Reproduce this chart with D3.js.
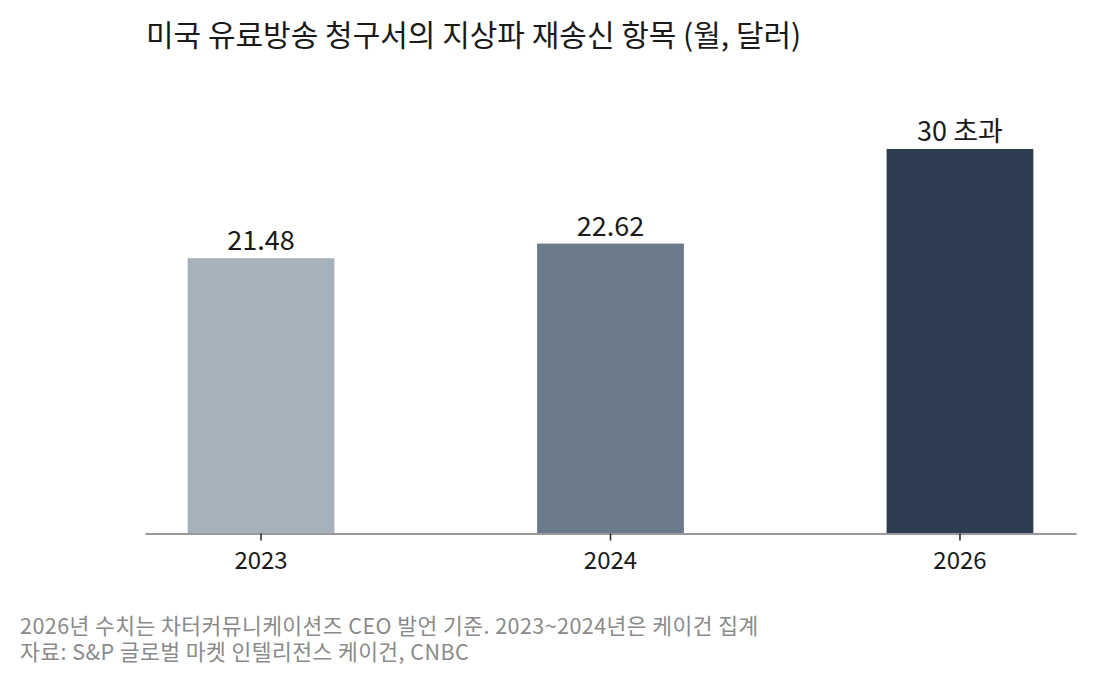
<!DOCTYPE html>
<html><head><meta charset="utf-8">
<script src="https://cdn.jsdelivr.net/npm/d3@7"></script>
<style>
body{margin:0;background:#fff;}
text{font-family:"Noto Sans CJK KR","Noto Sans",sans-serif;}
</style></head>
<body><svg id="c" width="1096" height="685"></svg>
<script>
const categories = ["2023","2024","2026"];
const values = [21.48, 22.62, 30];
const valueLabels = ["21.48","22.62","30 초과"];
const barColors = ["#a7b1bb","#6b7b8b","#2e3d4f"];
const title = "미국 유료방송 청구서의 지상파 재송신 항목 (월, 달러)";
const notes = ["2026년 수치는 차터커뮤니케이션즈 CEO 발언 기준. 2023~2024년은 케이건 집계",
               "자료: S&P 글로벌 마켓 인텔리전스 케이건, CNBC"];

const svg = d3.select("#c");
const x = d3.scaleBand().domain(categories).range([145,1076]).paddingInner(0.58).paddingOuter(0.122);
const y = d3.scaleLinear().domain([0,30]).range([533.5,149]);

svg.append("text").attr("x",146).attr("y",46).attr("font-size",30).attr("fill","#1a1a1a").text(title);

svg.selectAll("rect.bar").data(values).join("rect").attr("class","bar")
  .attr("x",(d,i)=>x(categories[i])).attr("width",x.bandwidth())
  .attr("y",d=>y(d)).attr("height",d=>y(0)-y(d))
  .attr("fill",(d,i)=>barColors[i]);

svg.selectAll("text.val").data(values).join("text").attr("class","val")
  .attr("x",(d,i)=>x(categories[i])+x.bandwidth()/2).attr("y",d=>y(d)-8)
  .attr("text-anchor","middle").attr("font-size",27).attr("fill","#1a1a1a")
  .text((d,i)=>valueLabels[i]);

const ax = svg.append("g").attr("transform",`translate(0,${y(0)})`)
  .call(d3.axisBottom(x).tickSize(7).tickPadding(11).tickSizeOuter(0));
ax.select(".domain").attr("stroke","#999").attr("stroke-width",2);
ax.selectAll(".tick line").attr("stroke","#222").attr("stroke-width",1.5);
ax.selectAll(".tick text").attr("font-size",24).attr("fill","#1a1a1a")
  .style("font-family",'"Noto Sans CJK KR","Noto Sans",sans-serif');

svg.selectAll("text.note").data(notes).join("text").attr("class","note")
  .attr("x",20).attr("y",(d,i)=>634+i*26).attr("font-size",21.5)
  .attr("letter-spacing",0.45).attr("fill","#8a8a8a").text(d=>d);
</script></body></html>
